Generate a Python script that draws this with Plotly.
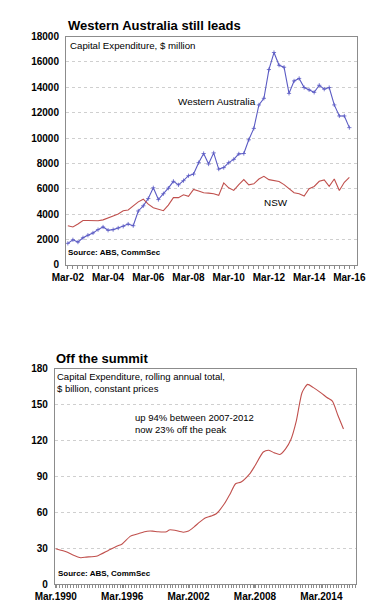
import pandas as pd
import plotly.graph_objects as go

# ---- Top chart data (quarterly, Mar-02 .. Mar-16), $ million
quarters = [d.strftime("%Y-%m-%d") for d in pd.date_range("2002-03-01", periods=57, freq="3MS")]
wa = [1700, 1980, 1800, 2140, 2340, 2520, 2780, 2990, 2730, 2780,
      2910, 3040, 3220, 3090, 4250, 4660, 5230, 6080, 5150, 5610,
      6050, 6590, 6310, 6640, 7030, 7160, 8060, 8780, 7950, 8830,
      7550, 7670, 8060, 8320, 8750, 8780, 9860, 10760, 12610, 13130,
      15400, 16740, 15740, 15580, 13520, 14500, 14700, 13980, 13800, 13600,
      14160, 13850, 13980, 12610, 11740, 11740, 10820]
nsw = [3090, 2990, 3220, 3500, 3500, 3480, 3480, 3550, 3680, 3860,
       4020, 4270, 4330, 4640, 4970, 5180, 4790, 4500, 4380, 4270,
       4710, 5300, 5300, 5530, 5410, 5950, 5820, 5690, 5660, 5610,
       5480, 6460, 6080, 5870, 6330, 6720, 6310, 6390, 6770, 6980,
       6720, 6640, 6570, 6330, 6000, 5690, 5610, 5430, 6000, 6180,
       6590, 6700, 6200, 6770, 5870, 6510, 6900]
top_ticks = ["Mar-02", "Mar-04", "Mar-06", "Mar-08", "Mar-10", "Mar-12", "Mar-14", "Mar-16"]

# ---- Bottom chart data, $ billion rolling annual total
cap_dates = ["1990-03-01", "1991-03-01", "1991-09-01", "1992-06-01", "1992-12-01",
             "1993-12-01", "1994-12-01", "1995-09-01", "1996-03-01", "1996-12-01",
             "1997-09-01", "1998-06-01", "1998-12-01", "1999-06-01", "2000-03-01",
             "2000-06-01", "2000-12-01", "2001-09-01", "2002-03-01", "2002-09-01",
             "2003-03-01", "2003-09-01", "2004-03-01", "2004-09-01", "2005-06-01",
             "2005-12-01", "2006-06-01", "2006-12-01", "2007-09-01", "2008-03-01",
             "2008-12-01", "2009-06-01", "2009-12-01", "2010-06-01", "2010-12-01",
             "2011-06-01", "2011-12-01", "2012-06-01", "2012-12-01", "2013-06-01",
             "2014-03-01", "2014-09-01", "2015-03-01", "2015-09-01", "2016-03-01"]
cap_vals = [29.7, 27.0, 24.8, 22.3, 22.8,
            23.8, 28.4, 31.8, 33.8, 40.3,
            42.5, 44.4, 44.5, 43.9, 43.9,
            45.5, 45.2, 43.6, 44.5, 48.0,
            52.0, 55.5, 57.0, 59.0, 67.5,
            75.5, 84.0, 85.5, 92.0, 99.0,
            110.5, 112.0, 109.8, 108.5, 113.0,
            121.0, 137.0, 160.0, 167.0, 164.5,
            159.7, 156.0, 153.0, 141.0, 129.7]

W, H = 391, 603
FONT = "Liberation Sans, Arial, sans-serif"

def px(x):
    return x / W

def py(y):
    return 1 - y / H

fig = go.Figure()
fig.add_trace(go.Scatter(x=quarters, y=wa, mode="lines+markers", xaxis="x", yaxis="y",
                         line=dict(color="#5b5bc4", width=1.1),
                         marker=dict(symbol="cross-thin", size=3,
                                     line=dict(color="#5b5bc4", width=0.8)),
                         showlegend=False))
fig.add_trace(go.Scatter(x=quarters, y=nsw, mode="lines", xaxis="x", yaxis="y",
                         line=dict(color="#c0504d", width=1.1), showlegend=False))
fig.add_trace(go.Scatter(x=cap_dates, y=cap_vals, mode="lines", xaxis="x2", yaxis="y2",
                         line=dict(color="#c0504d", width=1.1, shape="spline", smoothing=0.6),
                         showlegend=False))

axis_common = dict(showline=True, linecolor="#8c8c8c", linewidth=1, mirror=True,
                   tickfont=dict(family=FONT, size=10, color="black", weight="bold"))
grid = dict(showgrid=True, gridcolor="#cfcfcf", griddash="dot", gridwidth=1)

fig.update_layout(
    width=W, height=H, autosize=False,
    margin=dict(l=0, r=0, t=0, b=0),
    paper_bgcolor="white", plot_bgcolor="white",
    xaxis=dict(domain=[px(41), px(355)], type="date",
               range=["2002-01-26", "2016-07-12"],
               tickvals=[q for q in quarters if q[5:7] == "03" and int(q[:4]) % 2 == 0],
               ticktext=top_ticks,
               ticks="outside", ticklen=3, tickcolor="#8c8c8c",
               minor=dict(dtick="M3", tick0="2002-03-01", ticks="outside", ticklen=3,
                          tickcolor="#8c8c8c", showgrid=False),
               showgrid=False, anchor="y", **axis_common),
    yaxis=dict(domain=[py(256), py(23)], range=[0, 18000], dtick=2000,
               tickformat="d",
               ticks="", ticklabelstandoff=4, anchor="x", zeroline=False,
               **grid, **axis_common),
    xaxis2=dict(domain=[px(29), px(354)], type="date",
                range=["1990-01-30", "2017-04-10"],
                tick0="1990-03-01", dtick="M72", tickformat="Mar.%Y",
                ticks="outside", ticklen=3, tickcolor="#8c8c8c",
                minor=dict(dtick="M3", ticks="outside", ticklen=3,
                           tickcolor="#8c8c8c", showgrid=False),
                showgrid=False, anchor="y2", **axis_common),
    yaxis2=dict(domain=[py(582), py(362)], range=[0, 180], dtick=30,
                tickformat="d",
                ticks="", ticklabelstandoff=4, anchor="x2", zeroline=False,
                **grid, **axis_common),
)

def label(text, x, y, size, bold=False, xanchor="left"):
    fig.add_annotation(text=text, x=px(x), y=py(y), xref="paper", yref="paper",
                       xanchor=xanchor, yanchor="middle", showarrow=False,
                       align="left",
                       font=dict(family=FONT, size=size, color="black",
                                 weight="bold" if bold else "normal"))

label("Western Australia still leads", 41, 12, 13, bold=True)
label("Capital Expenditure, $ million", 43, 32, 9.7)
label("Western Australia", 160, 89, 9.9)
label("NSW", 253, 192, 9.9)
label("Source: ABS, CommSec", 41, 243, 8, bold=True)

label("Off the summit", 28, 351, 13, bold=True)
label("Capital Expenditure, rolling annual total,", 29, 370, 9.5)
label("$ billion, constant prices", 29, 382, 9.5)
label("up 94% between 2007-2012", 113, 412, 9.5)
label("now 23% off the peak", 113, 424, 9.5)
label("Source: ABS, CommSec", 30, 571, 8, bold=True)

fig.write_html("out.html")
